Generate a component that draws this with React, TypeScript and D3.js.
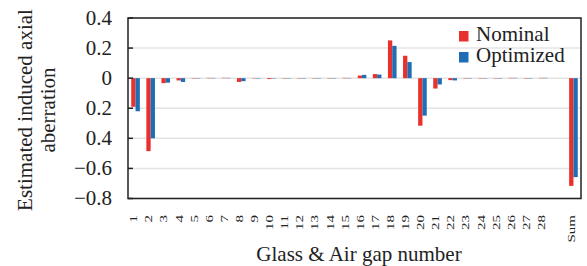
import { useEffect, useRef } from "react";
import * as d3 from "d3";

// x slots: 28 glass/air gaps, an empty gap, then the sum
const categories = [
  "1", "2", "3", "4", "5", "6", "7", "8", "9", "10",
  "11", "12", "13", "14", "15", "16", "17", "18", "19", "20",
  "21", "22", "23", "24", "25", "26", "27", "28", "", "Sum",
];
const nominal = [
  -0.19, -0.485, -0.033, -0.015, -0.003, 0.003, 0.004, -0.025, 0.002, -0.006,
  -0.003, -0.002, 0, 0, 0.003, 0.017, 0.027, 0.251, 0.149, -0.316,
  -0.069, -0.013, -0.004, 0, 0, 0.003, -0.002, 0.003, null, -0.716,
];
const optimized = [
  -0.22, -0.4, -0.03, -0.025, -0.002, 0.002, 0.003, -0.02, -0.002, -0.005,
  -0.003, -0.002, 0, 0, 0.002, 0.022, 0.024, 0.215, 0.107, -0.249,
  -0.042, -0.015, 0, -0.004, 0, 0.003, -0.003, 0.004, null, -0.658,
];
const seriesNames = ["Nominal", "Optimized"];
const yTicks = [0.4, 0.2, 0, -0.2, -0.4, -0.6, -0.8];
const yTickLabels = ["0.4", "0.2", "0", "0.2", "0.4", "\u22120.6", "\u22120.8"];

const colors = { Nominal: "#e8302c", Optimized: "#1f6db5" };
const font = "'Liberation Serif', 'Times New Roman', serif";

const App = () => {
  const svgRef = useRef<SVGSVGElement>(null);
  const width = 587;
  const height = 266;
  const margin = { top: 18, right: 6, bottom: 67.5, left: 128 };

  useEffect(() => {
    const svg = d3.select(svgRef.current);
    svg.selectAll("*").remove();

    const x = d3
      .scaleBand()
      .domain(categories.map((c, i) => String(i)))
      .range([margin.left, width - margin.right])
      .paddingInner(0.43)
      .paddingOuter(0.215);

    const xInner = d3
      .scaleBand()
      .domain(seriesNames)
      .range([0, x.bandwidth()]);

    const y = d3
      .scaleLinear()
      .domain([-0.8, 0.4])
      .range([height - margin.bottom, margin.top]);

    // grid
    svg
      .append("g")
      .selectAll("line")
      .data(yTicks)
      .enter()
      .append("line")
      .attr("x1", margin.left)
      .attr("x2", width - margin.right)
      .attr("y1", (d) => y(d))
      .attr("y2", (d) => y(d))
      .attr("stroke", "#e4e4e4")
      .attr("stroke-width", 1.5);

    // bars
    const rows = categories.map((c, i) => ({
      key: String(i),
      values: [
        { name: "Nominal", v: nominal[i] },
        { name: "Optimized", v: optimized[i] },
      ],
    }));

    svg
      .append("g")
      .selectAll("g")
      .data(rows)
      .enter()
      .append("g")
      .attr("transform", (d) => `translate(${x(d.key)},0)`)
      .selectAll("rect")
      .data((d) => d.values.filter((e) => e.v !== null))
      .enter()
      .append("rect")
      .attr("x", (d) => xInner(d.name))
      .attr("width", xInner.bandwidth())
      .attr("y", (d) => y(Math.max(0, d.v)))
      .attr("height", (d) => Math.max(0.8, Math.abs(y(d.v) - y(0))))
      .attr("fill", (d) => colors[d.name])
      .attr("fill-opacity", (d) => (Math.abs(d.v) < 0.006 ? 0.45 : 1));

    // y ticks (inward)
    svg
      .append("g")
      .selectAll("line")
      .data(yTicks)
      .enter()
      .append("line")
      .attr("x1", margin.left)
      .attr("x2", margin.left + 5)
      .attr("y1", (d) => y(d))
      .attr("y2", (d) => y(d))
      .attr("stroke", "#222")
      .attr("stroke-width", 1.5);

    svg
      .append("g")
      .selectAll("text")
      .data(yTicks)
      .enter()
      .append("text")
      .attr("x", margin.left - 16)
      .attr("y", (d) => y(d))
      .attr("dy", "0.32em")
      .attr("text-anchor", "end")
      .style("font-family", font)
      .style("font-size", "21px")
      .style("fill", "#222")
      .text((d, i) => yTickLabels[i]);

    // frame
    svg
      .append("rect")
      .attr("x", margin.left)
      .attr("y", margin.top)
      .attr("width", width - margin.left - margin.right)
      .attr("height", height - margin.top - margin.bottom)
      .attr("fill", "none")
      .attr("stroke", "#222")
      .attr("stroke-width", 1.5);

    // x tick labels, rotated
    svg
      .append("g")
      .selectAll("text")
      .data(categories)
      .enter()
      .append("text")
      .attr(
        "transform",
        (d, i) =>
          `translate(${x(String(i)) + x.bandwidth() / 2 - 2},215) rotate(-90) scale(1,0.7)`
      )
      .attr("dy", "0.35em")
      .attr("text-anchor", "end")
      .style("font-family", font)
      .style("font-size", "15px")
      .style("fill", "#222")
      .text((d) => d);

    // axis titles
    svg
      .append("text")
      .attr("x", 359)
      .attr("y", 261)
      .attr("text-anchor", "middle")
      .style("font-family", font)
      .style("font-size", "21px")
      .style("fill", "#222")
      .text("Glass & Air gap number");

    const yTitle = svg
      .append("text")
      .attr("transform", "translate(32,110) rotate(-90)")
      .attr("text-anchor", "middle")
      .style("font-family", font)
      .style("font-size", "21px")
      .style("fill", "#222");
    yTitle.append("tspan").attr("x", 0).attr("y", 0).text("Estimated induced axial");
    yTitle.append("tspan").attr("x", 0).attr("y", 23).text("aberration");

    // legend
    const legend = svg
      .append("g")
      .selectAll("g")
      .data(seriesNames)
      .enter()
      .append("g")
      .attr("transform", (d, i) => `translate(459,${31 + i * 21})`);
    legend
      .append("rect")
      .attr("width", 9.5)
      .attr("height", 10.5)
      .attr("fill", (d) => colors[d]);
    legend
      .append("text")
      .attr("x", 17)
      .attr("y", 10)
      .style("font-family", font)
      .style("font-size", "21px")
      .style("fill", "#222")
      .text((d) => d);
  }, []);

  return (
    <svg
      ref={svgRef}
      width={width}
      height={height}
      style={{ position: "absolute", left: 0, top: 0, background: "#fff" }}
    ></svg>
  );
};

export default App;
